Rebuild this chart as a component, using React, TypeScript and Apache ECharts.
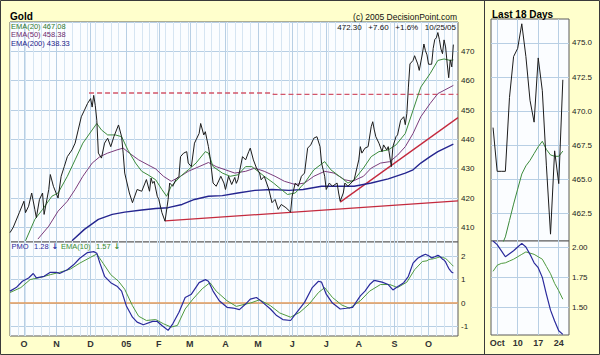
import React, { useEffect, useRef } from 'react';
import * as echarts from 'echarts';

// ---------- categories (trading days) ----------
function weekdays(a: string, b: string): string[] {
  const out: string[] = [];
  const [y1, m1, d1] = a.split('-').map(Number);
  const [y2, m2, d2] = b.split('-').map(Number);
  let t = Date.UTC(y1, m1 - 1, d1);
  const end = Date.UTC(y2, m2 - 1, d2);
  while (t <= end) {
    const d = new Date(t);
    const wd = d.getUTCDay();
    if (wd !== 0 && wd !== 6) out.push(d.toISOString().slice(0, 10));
    t += 86400000;
  }
  return out;
}
const mainDates = weekdays('2004-09-20', '2005-10-28');
const sideDates = weekdays('2005-09-30', '2005-10-26');
const SIDE_OFFSET = 269; // main trading-day index of 2005-09-30

const monthLetters = ['05', 'F', 'M', 'A', 'M', 'J', 'J', 'A', 'S', 'O', 'N', 'D'];
const yTicksPrice = [410, 420, 430, 440, 450, 460, 470];

// ---------- data: [trading day index since 2004-09-20, value] ----------
const priceClose: [number, number][] = [
  [0, 408.2], [2, 409.9], [6, 415.0], [9, 418.9], [10, 415.0], [12, 417.2], [14, 421.7], [16, 416.1], [17, 413.3],
  [19, 419.5], [21, 421.7], [22, 414.4], [25, 422.9], [26, 428.0], [28, 424.0], [31, 420.0], [33, 427.4], [35, 430.7],
  [37, 434.1], [40, 436.4], [42, 438.7], [44, 443.2], [46, 447.7], [48, 449.9], [50, 452.2], [52, 453.9], [53, 451.0],
  [54, 455.0], [55, 451.6], [56, 446.5], [57, 435.3], [59, 433.6], [61, 438.7], [63, 440.4], [65, 437.5], [67, 440.9],
  [70, 444.9], [72, 440.9], [73, 435.3], [74, 428.5], [77, 421.7], [79, 418.4], [82, 422.9], [85, 422.3], [88, 426.3],
  [90, 422.3], [91, 426.8], [92, 425.0], [93, 425.7], [95, 420.6], [96, 419.5], [98, 415.0], [100, 412.1], [102, 419.5],
  [103, 425.1], [105, 424.0], [107, 426.3], [109, 427.4], [110, 434.1], [112, 435.3], [114, 435.8], [115, 431.9],
  [117, 430.7], [119, 438.7], [122, 442.0], [123, 445.4], [125, 441.5], [126, 442.6], [128, 437.5], [129, 434.1],
  [131, 425.1], [133, 424.0], [136, 427.4], [138, 425.1], [139, 422.9], [141, 427.4], [143, 424.6], [145, 427.0],
  [146, 425.0], [147, 426.2], [150, 434.1], [152, 433.0], [154, 435.8], [155, 437.0], [157, 433.0], [159, 430.2],
  [161, 428.5], [162, 426.2], [164, 427.4], [167, 422.9], [169, 418.4], [171, 419.5], [173, 416.1], [175, 417.8],
  [178, 416.7], [181, 415.2], [182, 420.6], [184, 425.1], [186, 424.0], [188, 427.4], [190, 428.5], [192, 437.0],
  [194, 438.1], [196, 440.4], [198, 440.9], [200, 437.5], [201, 431.9], [203, 427.4], [204, 422.9], [206, 425.1],
  [208, 424.0], [211, 425.1], [212, 421.7], [213, 418.9], [215, 421.7], [216, 425.1], [218, 424.0], [220, 425.1],
  [222, 426.2], [225, 433.0], [226, 437.5], [227, 435.3], [229, 437.0], [231, 437.5], [233, 444.3], [234, 446.0],
  [235, 443.2], [236, 440.9], [238, 438.7], [240, 435.8], [241, 438.1], [243, 436.4], [244, 437.5], [246, 430.7],
  [247, 437.5], [249, 440.9], [250, 441.5], [252, 446.5], [254, 447.7], [255, 445.0], [256, 448.8], [257, 457.8],
  [258, 465.7], [260, 466.9], [261, 468.5], [263, 465.7], [264, 463.5], [266, 469.1], [267, 472.5], [268, 470.2],
];
const ema20: [number, number][] = [
  [10, 405.4], [16, 412.7], [21, 416.1], [27, 420.6], [31, 421.7], [37, 427.4], [42, 433.0], [47, 438.7], [53, 443.2],
  [56, 445.4], [59, 443.2], [63, 441.5], [68, 441.5], [72, 440.9], [76, 436.4], [81, 431.9], [85, 429.1], [89, 427.9],
  [94, 426.2], [98, 422.9], [101, 420.6], [104, 424.0], [110, 427.4], [115, 429.6], [120, 431.9], [126, 435.8],
  [128, 435.3], [131, 430.7], [137, 428.5], [142, 427.4], [147, 427.9], [152, 430.7], [156, 430.7], [160, 429.1],
  [164, 427.4], [170, 425.1], [175, 422.9], [179, 421.2], [184, 421.7], [188, 424.0], [190, 425.1], [196, 429.6],
  [203, 432.4], [207, 429.6], [214, 426.8], [218, 425.1], [222, 426.2], [228, 430.2], [233, 434.1], [238, 435.8],
  [244, 436.4], [249, 438.1], [255, 442.0], [260, 449.9], [265, 457.8], [271, 462.4], [276, 466.9], [280, 467.4],
  [284, 466.9], [286, 467.08],
];
const ema50: [number, number][] = [
  [18, 406.0], [25, 410.4], [31, 415.5], [37, 418.9], [42, 422.9], [47, 427.4], [53, 431.9], [58, 434.1], [63, 435.3],
  [69, 436.4], [73, 437.0], [77, 435.3], [83, 433.0], [89, 431.3], [94, 429.9], [99, 427.4], [104, 425.7], [110, 427.4],
  [115, 429.1], [122, 430.7], [128, 432.1], [133, 430.7], [139, 429.6], [145, 428.5], [152, 429.1], [158, 430.2],
  [164, 429.1], [171, 427.4], [177, 425.7], [184, 424.6], [190, 425.1], [196, 427.4], [203, 429.1], [209, 428.5],
  [216, 426.2], [221, 425.7], [228, 427.4], [233, 430.2], [239, 431.9], [245, 432.4], [250, 434.6], [255, 437.5],
  [260, 442.0], [265, 447.7], [271, 452.2], [276, 455.6], [280, 456.7], [286, 458.38],
];
const ema200: [number, number][] = [
  [40, 405.4], [48, 409.3], [57, 412.7], [66, 414.4], [74, 415.2], [85, 415.9], [94, 416.4], [102, 416.7], [111, 417.8],
  [119, 419.5], [128, 420.6], [137, 420.8], [147, 421.7], [158, 422.6], [169, 422.9], [180, 422.6], [189, 422.9],
  [201, 424.0], [212, 424.0], [222, 424.0], [233, 425.1], [244, 426.5], [255, 428.5], [260, 429.6], [265, 431.9],
  [271, 434.1], [276, 435.8], [286, 438.33],
];
const pmo: [number, number][] = [
  [0, 0.51], [4, 0.66], [8, 0.93], [12, 1.07], [15, 1.26], [17, 1.07], [22, 1.14], [26, 1.31], [30, 1.31], [32, 1.26],
  [37, 1.42], [41, 1.63], [45, 1.91], [50, 2.15], [54, 2.19], [56, 2.12], [58, 1.70], [61, 1.14], [65, 0.87], [69, 0.72],
  [72, 0.51], [75, -0.11], [79, -0.60], [82, -0.81], [86, -0.92], [92, -0.78], [95, -0.78], [98, -0.95], [102, -1.16],
  [105, -0.88], [109, -0.39], [113, 0.24], [117, 0.38], [122, 0.87], [126, 1.0], [128, 0.93], [131, 0.51], [135, 0.10],
  [140, -0.18], [144, -0.21], [148, -0.28], [152, -0.04], [155, 0.17], [159, 0.24], [163, 0.03], [168, -0.25],
  [172, -0.53], [176, -0.70], [181, -0.74], [185, -0.39], [190, 0.03], [195, 0.66], [199, 0.93], [201, 0.89],
  [204, 0.38], [208, 0.0], [213, -0.25], [217, -0.22], [221, -0.18], [226, 0.31], [229, 0.51], [232, 0.79], [235, 0.97],
  [240, 0.89], [244, 0.79], [247, 0.56], [250, 0.70], [254, 0.87], [257, 1.14], [260, 1.70], [263, 1.91], [266, 2.02],
  [268, 2.08],
];
const pmoEma10: [number, number][] = [
  [0, 0.45], [7, 0.66], [13, 1.0], [20, 1.10], [26, 1.21], [32, 1.31], [39, 1.45], [45, 1.70], [52, 1.95], [56, 2.09],
  [60, 1.70], [65, 1.21], [70, 0.93], [74, 0.59], [79, -0.11], [83, -0.56], [88, -0.74], [94, -0.70], [99, -0.88],
  [104, -1.02], [108, -0.95], [113, -0.25], [118, 0.17], [124, 0.61], [129, 0.87], [133, 0.51], [140, 0.10],
  [146, -0.14], [152, -0.04], [155, 0.0], [161, 0.14], [168, -0.11], [174, -0.42], [181, -0.60], [187, -0.39],
  [193, -0.04], [199, 0.45], [203, 0.66], [208, 0.24], [214, -0.08], [219, -0.22], [226, 0.10], [232, 0.51], [239, 0.79],
  [245, 0.79], [250, 0.66], [256, 0.89], [261, 1.42], [266, 1.77],
];
// Last 18 days (2005-09-30 .. 2005-10-25)
const sideClose = [468.8, 465.6, 465.6, 465.6, 471.0, 474.0, 474.6, 476.4, 474.0, 470.8, 469.2, 473.9, 471.5, 466.0, 461.0, 467.1, 464.7, 472.3];
const sideEma20 = [458.6, 459.4, 460.1, 460.8, 462.0, 463.2, 464.3, 465.4, 466.0, 466.4, 466.9, 467.4, 467.8, 467.2, 466.8, 466.7, 466.7, 467.08];
const sidePmo = [2.05, 2.02, 1.97, 1.92, 1.945, 1.97, 2.0, 2.03, 2.0, 1.94, 1.87, 1.83, 1.75, 1.61, 1.48, 1.39, 1.31, 1.28];
const sideEma10 = [1.80, 1.85, 1.865, 1.87, 1.885, 1.90, 1.92, 1.94, 1.96, 1.95, 1.94, 1.92, 1.90, 1.84, 1.78, 1.70, 1.64, 1.57];

// annotation lines
const resistanceDashed: [number, number][] = [[51, 455.8], [169, 455.8], [170, 455.3], [289, 455.3]];
const supportLong: [number, number][] = [[100, 412.2], [289, 419.0]];
const supportRising: [number, number][] = [[213, 418.6], [289, 447.4]];
const pmoZero: [number, number][] = [[0, 0], [289, 0]];

// ---------- styling ----------
const FONT = 'Liberation Sans, Arial, sans-serif';
const BG = '#ffffcc';
const PLOT_BG = '#fbfdff';
const GRID_WEEK = '#d6e5f2';
const GRID_MAIN = '#b8cfe4';
const NONE = 'rgba(0,0,0,0)';
const C_PRICE = '#1c1c1c';
const C_EMA20 = '#3b8a3b';
const C_EMA50 = '#7b3c7b';
const C_EMA200 = '#25258f';
const C_PMO = '#2a2a9c';
const C_EMA10 = '#4f9a3f';
const C_RED = '#c42a3e';
const C_DASH = '#d2556a';
const C_ZERO = '#e39a5a';

const isMonday = (v: string) => new Date(v + 'T00:00:00Z').getUTCDay() === 1;
const isMonthStart = (i: number) => i > 0 && mainDates[i].slice(5, 7) !== mainDates[i - 1].slice(5, 7);
const mainPts = (arr: [number, number][]) => arr.map(([d, v]) => [mainDates[d], v]);
const sidePts = (arr: number[]) => arr.map((v, i) => [sideDates[i], v]);
const fromSide = (arr: number[]): [number, number][] => arr.map((v, i) => [SIDE_OFFSET + i, v] as [number, number]);

const near = (v: number, step: number) => Math.abs(v / step - Math.round(v / step)) < 1e-6;

function lineSeries(x: number, y: number, data: any[], color: string, width = 1, extra: any = {}) {
  return {
    type: 'line', xAxisIndex: x, yAxisIndex: y, data, symbol: 'none', showSymbol: false, silent: true,
    lineStyle: { color, width, ...(extra.lineStyle || {}) }, z: extra.z ?? 2,
  };
}

function txt(x: number, y: number, text: string, font: string, fill: string, align = 'left') {
  return {
    type: 'text', silent: true, z: 100,
    style: { x, y, text, font, fill, align, textAlign: align, verticalAlign: 'middle', textVerticalAlign: 'middle' },
  };
}

function buildOption() {
  const gridBase = { show: true, backgroundColor: PLOT_BG, borderColor: '#5a5a5a', borderWidth: 1, containLabel: false };
  const weekAxis = (grid: number, position: string) => ({
    type: 'category', gridIndex: grid, data: mainDates, boundaryGap: false, position,
    axisLine: { show: false }, axisTick: { show: false }, axisLabel: { show: false },
    splitLine: { show: true, interval: (_i: number, v: string) => isMonday(v), lineStyle: { color: GRID_WEEK, width: 1 } },
  });
  const monthAxis = (grid: number, position: string, labels: boolean) => ({
    type: 'category', gridIndex: grid, data: mainDates, boundaryGap: false, position,
    axisLine: { show: false }, axisTick: { show: false },
    axisLabel: {
      show: labels, interval: (i: number) => isMonthStart(i), margin: 3,
      fontFamily: FONT, fontSize: 9, fontWeight: 'bold', color: '#333',
      formatter: (v: string) => monthLetters[+v.slice(5, 7) - 1],
    },
    splitLine: { show: true, interval: (i: number) => isMonthStart(i), lineStyle: { color: GRID_MAIN, width: 1 } },
  });
  const sideX = (grid: number, labels: boolean) => ({
    type: 'category', gridIndex: grid, data: sideDates, boundaryGap: true,
    axisLine: { show: false }, axisTick: { show: false },
    axisLabel: {
      show: labels, interval: (_i: number, v: string) => isMonday(v), margin: 3,
      fontFamily: FONT, fontSize: 9, fontWeight: 'bold', color: '#333',
      formatter: (v: string) => (+v.slice(8) <= 7 ? 'Oct' : String(+v.slice(8))),
    },
    splitLine: { show: true, alignWithLabel: true, interval: (_i: number, v: string) => isMonday(v), lineStyle: { color: GRID_MAIN } },
  });
  const yLabel = { fontFamily: FONT, fontSize: 8, color: '#222', margin: 3, showMaxLabel: false, showMinLabel: false };

  const priceAll = [...priceClose, ...fromSide(sideClose)];
  const pmoAll = [...pmo, ...fromSide(sidePmo)];
  const ema10All = [...pmoEma10, ...fromSide(sideEma10)];
  const ARROW_FONT = 'bold 8px DejaVu Sans, sans-serif';

  return {
    animation: false,
    backgroundColor: BG,
    textStyle: { fontFamily: FONT },
    grid: [
      { ...gridBase, left: 10, top: 22, width: 448, height: 220 },
      { ...gridBase, left: 10, top: 242, width: 448, height: 94 },
      { ...gridBase, left: 491, top: 19, width: 78, height: 222 },
      { ...gridBase, left: 491, top: 241, width: 78, height: 94 },
    ],
    xAxis: [
      weekAxis(0, 'bottom'), monthAxis(0, 'top', false),
      weekAxis(1, 'top'), monthAxis(1, 'bottom', true),
      sideX(2, false), sideX(3, true),
    ],
    yAxis: [
      {
        type: 'value', gridIndex: 0, position: 'right', min: 405, max: 480, interval: 5,
        axisLine: { show: false }, axisTick: { show: false },
        axisLabel: { ...yLabel, formatter: (v: number) => (yTicksPrice.includes(Math.round(v)) && near(v, 10) ? String(Math.round(v)) : '') },
        splitLine: { show: true, lineStyle: { color: [NONE, GRID_MAIN] } },
      },
      {
        type: 'value', gridIndex: 1, position: 'right', min: -1.4, max: 2.6, interval: 0.2,
        axisLine: { show: false }, axisTick: { show: false },
        axisLabel: { ...yLabel, formatter: (v: number) => (near(v, 1) ? String(Math.round(v)) : '') },
        splitLine: { show: true, lineStyle: { color: [NONE, NONE, GRID_MAIN, NONE, NONE] } },
      },
      {
        type: 'value', gridIndex: 2, position: 'right', min: 460.5, max: 476.75, interval: 0.5,
        axisLine: { show: false }, axisTick: { show: false },
        axisLabel: { ...yLabel, formatter: (v: number) => (near(v, 2.5) ? v.toFixed(1) : '') },
        splitLine: { show: true, lineStyle: { color: [NONE, NONE, NONE, NONE, GRID_MAIN] } },
      },
      {
        type: 'value', gridIndex: 3, position: 'right', min: 1.275, max: 2.05, interval: 0.025,
        axisLine: { show: false }, axisTick: { show: false },
        axisLabel: { ...yLabel, formatter: (v: number) => (near(v, 0.25) ? v.toFixed(2) : '') },
        splitLine: { show: true, lineStyle: { color: [NONE, NONE, NONE, NONE, NONE, NONE, NONE, NONE, NONE, GRID_MAIN] } },
      },
    ],
    series: [
      lineSeries(0, 0, mainPts(resistanceDashed), C_DASH, 1.3, { lineStyle: { type: [5, 3] } }),
      lineSeries(0, 0, mainPts(supportLong), C_RED, 1.3),
      lineSeries(0, 0, mainPts(supportRising), C_RED, 1.3),
      lineSeries(0, 0, mainPts(ema200), C_EMA200, 1.4),
      lineSeries(0, 0, mainPts(ema50), C_EMA50, 1),
      lineSeries(0, 0, mainPts(ema20), C_EMA20, 1),
      lineSeries(0, 0, mainPts(priceAll), C_PRICE, 1, { z: 3 }),
      lineSeries(2, 1, mainPts(pmoZero), C_ZERO, 1.5),
      lineSeries(2, 1, mainPts(ema10All), C_EMA10, 1),
      lineSeries(2, 1, mainPts(pmoAll), C_PMO, 1.2, { z: 3 }),
      lineSeries(4, 2, sidePts(sideEma20), C_EMA20, 1),
      lineSeries(4, 2, sidePts(sideClose), C_PRICE, 1, { z: 3 }),
      lineSeries(5, 3, sidePts(sideEma10), C_EMA10, 1),
      lineSeries(5, 3, sidePts(sidePmo), C_PMO, 1.2, { z: 3 }),
    ],
    graphic: [
      { type: 'rect', silent: true, z: 100, shape: { x: 0.5, y: 0.5, width: 599, height: 354 }, style: { fill: 'none', stroke: '#3a3a3a', lineWidth: 1 } },
      { type: 'line', silent: true, z: 100, shape: { x1: 484.5, y1: 0, x2: 484.5, y2: 355 }, style: { stroke: '#3a3a3a', lineWidth: 1 } },
      txt(10, 16, 'Gold', `bold 10px ${FONT}`, '#000'),
      txt(492, 14, 'Last 18 Days', `bold 10px ${FONT}`, '#000'),
      txt(457, 16.5, '(c) 2005 DecisionPoint.com', `8.5px ${FONT}`, '#111', 'right'),
      txt(456, 27, '472.30   +7.60   +1.6%   10/25/05', `8px ${FONT}`, '#111', 'right'),
      txt(11, 26, 'EMA(20) 467.08', `7.5px ${FONT}`, '#2f7a2f'),
      txt(11, 34.5, 'EMA(50) 458.38', `7.5px ${FONT}`, '#6c2a6c'),
      txt(11, 43, 'EMA(200) 438.33', `7.5px ${FONT}`, '#22228a'),
      txt(11.5, 246.5, 'PMO', `7.5px ${FONT}`, C_PMO),
      txt(34, 246.5, '1.28', `7.5px ${FONT}`, C_PMO),
      txt(51.5, 246.5, '\u2193', ARROW_FONT, C_PMO),
      txt(61, 246.5, 'EMA(10)', `7.5px ${FONT}`, '#3a8a30'),
      txt(96, 246.5, '1.57', `7.5px ${FONT}`, '#3a8a30'),
      txt(113.5, 246.5, '\u2193', ARROW_FONT, '#3a8a30'),
    ],
  };
}

export default function App() {
  const ref = useRef<HTMLDivElement>(null);
  useEffect(() => {
    if (!ref.current) return;
    const chart = echarts.init(ref.current, undefined, { renderer: 'svg' });
    chart.setOption(buildOption() as any);
    return () => chart.dispose();
  }, []);
  return <div ref={ref} style={{ position: 'absolute', left: 0, top: 0, width: 600, height: 355 }} />;
}
